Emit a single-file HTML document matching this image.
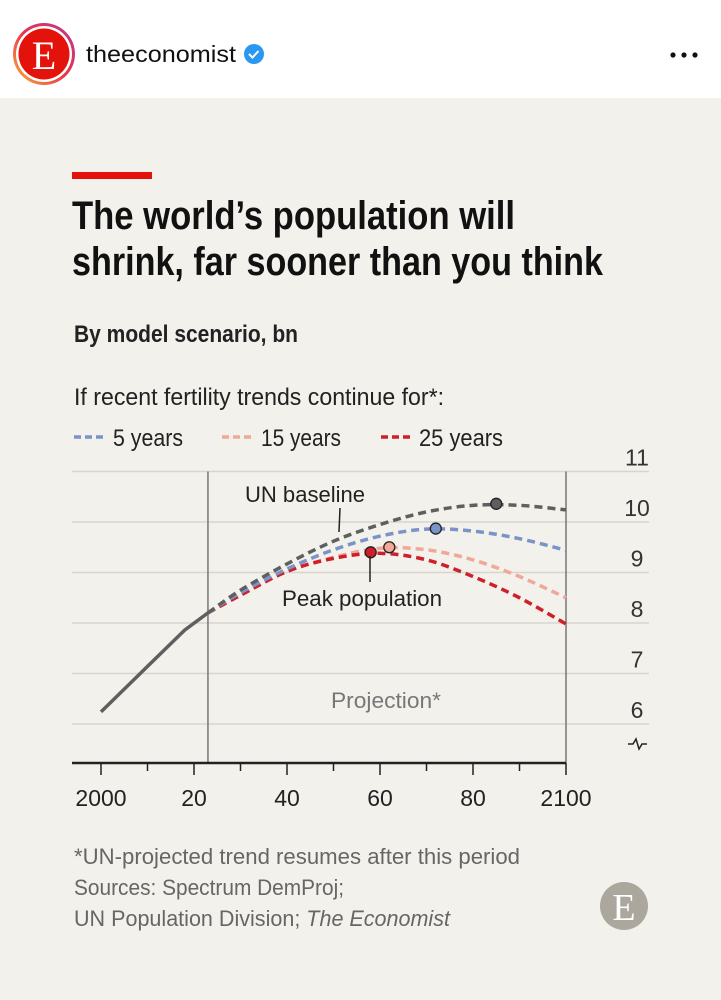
<!DOCTYPE html>
<html><head><meta charset="utf-8">
<style>
html,body{margin:0;padding:0;width:721px;height:1000px;overflow:hidden;background:#f3f1ec;}
svg{display:block;font-family:"Liberation Sans",sans-serif;}
</style></head>
<body>
<svg width="721" height="1000" viewBox="0 0 721 1000">
<defs>
<linearGradient id="ring" x1="0" y1="1" x2="1" y2="0">
<stop offset="0" stop-color="#f9b233"/><stop offset="0.5" stop-color="#e8344e"/><stop offset="1" stop-color="#c1358f"/>
</linearGradient>
</defs>
<rect x="0" y="0" width="721" height="98" fill="#ffffff"/>
<g>
<circle cx="44" cy="54" r="31" fill="url(#ring)"/>
<circle cx="44" cy="54" r="28" fill="#fff"/>
<circle cx="44" cy="54" r="25.5" fill="#e3120b"/>
<text x="44" y="69" font-family="Liberation Serif,serif" font-size="40" fill="#fff" text-anchor="middle">E</text>
</g>
<text x="86" y="62" font-size="23" fill="#111" textLength="150" lengthAdjust="spacingAndGlyphs">theeconomist</text>
<g>
<circle cx="254" cy="54" r="10" fill="#2a98f0"/>
<path d="M249 54 l3.5 3.5 l6 -6.5" stroke="#fff" stroke-width="2" fill="none"/>
</g>
<g fill="#111">
<circle cx="673" cy="55" r="2.6"/><circle cx="684" cy="55" r="2.6"/><circle cx="695" cy="55" r="2.6"/>
</g>

<rect x="72" y="172" width="80" height="7" fill="#e3120b"/>
<text x="72" y="229" font-size="40" font-weight="bold" fill="#111" textLength="443" lengthAdjust="spacingAndGlyphs">The world’s population will</text>
<text x="72" y="275" font-size="40" font-weight="bold" fill="#111" textLength="531" lengthAdjust="spacingAndGlyphs">shrink, far sooner than you think</text>
<text x="74" y="342" font-size="24" font-weight="bold" fill="#222" textLength="224" lengthAdjust="spacingAndGlyphs">By model scenario, bn</text>
<text x="74" y="405" font-size="24" fill="#222" textLength="370" lengthAdjust="spacingAndGlyphs">If recent fertility trends continue for*:</text>

<g>
<line x1="74" y1="437" x2="106" y2="437" stroke="#7a93c8" stroke-width="3.5" stroke-dasharray="7,4"/>
<text x="113" y="446" font-size="24" fill="#222" textLength="70" lengthAdjust="spacingAndGlyphs">5 years</text>
</g>
<g>
<line x1="222" y1="437" x2="254" y2="437" stroke="#f0a898" stroke-width="3.5" stroke-dasharray="7,4"/>
<text x="261" y="446" font-size="24" fill="#222" textLength="80" lengthAdjust="spacingAndGlyphs">15 years</text>
</g>
<g>
<line x1="381" y1="437" x2="413" y2="437" stroke="#cf1f28" stroke-width="3.5" stroke-dasharray="7,4"/>
<text x="419" y="446" font-size="24" fill="#222" textLength="84" lengthAdjust="spacingAndGlyphs">25 years</text>
</g>

<g id="chart"></g>

<text x="74" y="864" font-size="22" fill="#666" textLength="446" lengthAdjust="spacingAndGlyphs">*UN-projected trend resumes after this period</text>
<text x="74" y="895" font-size="22" fill="#666" textLength="270" lengthAdjust="spacingAndGlyphs">Sources: Spectrum DemProj;</text>
<text x="74" y="926" font-size="22" fill="#666" textLength="376" lengthAdjust="spacingAndGlyphs">UN Population Division; <tspan font-style="italic">The Economist</tspan></text>
<g>
<circle cx="624" cy="906" r="24" fill="#aba79d"/>
<text x="624" y="920" font-family="Liberation Serif,serif" font-size="38" fill="#fff" text-anchor="middle">E</text>
</g>
</svg>
<script>
const xTickYears=[2000,2010,2020,2030,2040,2050,2060,2070,2080,2090,2100];
const xLabelYears=[2000,2020,2040,2060,2080,2100];
const xLabels=["2000","20","40","60","80","2100"];
const yTicks=[6,7,8,9,10,11];
const histYears=[2000,2010,2018,2023];
const histVals=[6.24,7.14,7.86,8.2];
const projYears=[2023,2030,2040,2050,2060,2070,2080,2090,2100];
const unVals=[8.2,8.65,9.17,9.62,9.95,10.2,10.33,10.33,10.24];
const y5Vals=[8.2,8.6,9.07,9.45,9.72,9.86,9.82,9.67,9.44];
const y15Vals=[8.2,8.55,9.02,9.3,9.48,9.45,9.25,8.92,8.5];
const y25Vals=[8.2,8.55,9.02,9.28,9.38,9.25,8.92,8.5,7.98];
const peakYears=[2085,2072,2062,2058];
const peakVals=[10.36,9.87,9.5,9.4];

const NS="http://www.w3.org/2000/svg";
const g=document.getElementById('chart');
const xs=yr=>101+(yr-2000)*4.65;
const ys=v=>724-(v-6)*50.5;
function el(t,a,p){const e=document.createElementNS(NS,t);for(const k in a)e.setAttribute(k,a[k]);(p||g).appendChild(e);return e;}

yTicks.forEach((v,i)=>{
 const l=el('line',{x1:72,x2:649,y1:ys(v),y2:ys(v),stroke:'#d8d5cf','stroke-width':1.5});
 
 
 const t=el('text',{x:637,y:ys(v)-6,'font-size':23,fill:'#333','text-anchor':'middle'});
 t.textContent=String(v);
 
 
});
const brk=el('path',{d:'M628 744 h5 l3 -5 l3 10 l3 -5 h5',stroke:'#222','stroke-width':1.5,fill:'none'});



[2023,2100].forEach(yr=>{
 const l=el('line',{x1:xs(yr),x2:xs(yr),y1:ys(11),y2:763,stroke:'#777','stroke-width':1.5});
 
 
});

function pts(ya,va){return ya.map((y,i)=>xs(y)+','+ys(va[i])).join(' ');}
const hist=el('polyline',{points:pts(histYears,histVals),fill:'none',stroke:'#5f5f5f','stroke-width':3.5});



function smooth(ya,va){
 const p=ya.map((y,i)=>[xs(y),ys(va[i])]);
 let d='M'+p[0][0]+' '+p[0][1];
 for(let i=0;i<p.length-1;i++){
  const p0=p[i-1]||p[i],p1=p[i],p2=p[i+1],p3=p[i+2]||p2;
  d+=' C'+(p1[0]+(p2[0]-p0[0])/6)+' '+(p1[1]+(p2[1]-p0[1])/6)+' '+(p2[0]-(p3[0]-p1[0])/6)+' '+(p2[1]-(p3[1]-p1[1])/6)+' '+p2[0]+' '+p2[1];
 }
 return d;
}
const series=[[y15Vals,'#f0a898','series-15-years'],[y25Vals,'#cf1f28','series-25-years'],[y5Vals,'#7a93c8','series-5-years'],[unVals,'#5f5f5f','series-un-baseline']];
series.forEach(s=>{
 const p=el('path',{d:smooth(projYears,s[0]),fill:'none',stroke:s[1],'stroke-width':3.5,'stroke-dasharray':'8,5'});
 
 
});
const dotCols=['#5f5f5f','#7a93c8','#f0a898','#cf1f28'];
const dotNames=['peak-un-baseline','peak-5-years','peak-15-years','peak-25-years'];
peakYears.forEach((yr,i)=>{
 const c=el('circle',{cx:xs(yr),cy:ys(peakVals[i]),r:5.5,fill:dotCols[i],stroke:'#222','stroke-width':1.3});
 
 
});

const ax=el('line',{x1:72,x2:566,y1:763,y2:763,stroke:'#222','stroke-width':2.5});


xTickYears.forEach(yr=>{
 const major=(yr%20===0);
 const l=el('line',{x1:xs(yr),x2:xs(yr),y1:763,y2:major?775:771,stroke:'#222','stroke-width':1.5});
 
 
});
xLabelYears.forEach((yr,i)=>{
 const t=el('text',{x:xs(yr),y:806,'font-size':23,fill:'#222','text-anchor':'middle'});
 t.textContent=xLabels[i];
 
 
});

const a1=el('text',{x:245,y:502,'font-size':22,fill:'#222',textLength:120,lengthAdjust:'spacingAndGlyphs'});
a1.textContent='UN baseline';


const l1=el('line',{x1:340,y1:508,x2:339,y2:532,stroke:'#222','stroke-width':1.5});


const l2=el('line',{x1:370,y1:556,x2:370,y2:582,stroke:'#222','stroke-width':1.5});


const a2=el('text',{x:282,y:606,'font-size':22,fill:'#222',textLength:160,lengthAdjust:'spacingAndGlyphs'});
a2.textContent='Peak population';


const a3=el('text',{x:331,y:708,'font-size':22,fill:'#777',textLength:110,lengthAdjust:'spacingAndGlyphs'});
a3.textContent='Projection*';


</script>
</body></html>
